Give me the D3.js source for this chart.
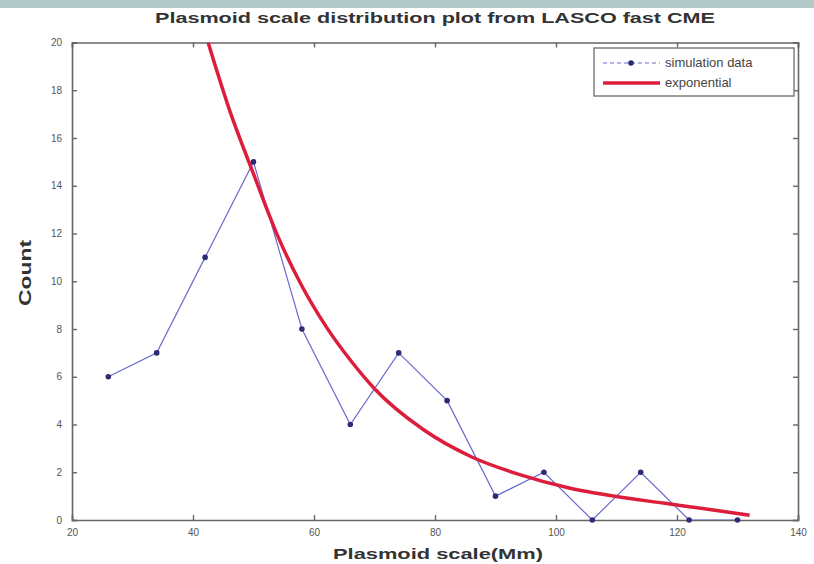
<!DOCTYPE html>
<html><head><meta charset="utf-8">
<script src="https://cdn.jsdelivr.net/npm/d3@7"></script>
<style>body{margin:0;background:#fff}svg{display:block}text{font-family:"Liberation Sans",Arial,sans-serif}</style>
</head><body>
<script>
const title = "Plasmoid scale distribution plot from LASCO fast CME";
const xLabel = "Plasmoid scale(Mm)";
const yLabel = "Count";
const seriesNames = ["simulation data", "exponential"];
const scaleX = [26, 34, 42, 50, 58, 66, 74, 82, 90, 98, 106, 114, 122, 130];
const counts = [6, 7, 11, 15, 8, 4, 7, 5, 1, 2, 0, 2, 0, 0];
const fitX = [42.5, 46, 50, 54, 58, 62, 66, 70, 78, 86, 94, 102, 110, 118, 126, 132];
const fitY = [20.0, 17.2, 14.5, 11.9, 9.8, 8.1, 6.7, 5.5, 3.8, 2.65, 1.9, 1.35, 0.98, 0.7, 0.42, 0.2];
const xTicks = [20, 40, 60, 80, 100, 120, 140];
const yTicks = [0, 2, 4, 6, 8, 10, 12, 14, 16, 18, 20];

const W = 814, H = 564;
const L = 72, R = 798, T = 42.5, B = 520;
const svg = d3.select("body").append("svg").attr("width", W).attr("height", H);

svg.append("rect").attr("x", 0).attr("y", 0).attr("width", W).attr("height", 8).attr("fill", "#b2c9c8");

const x = d3.scaleLinear().domain([20, 140]).range([L, R]);
const y = d3.scaleLinear().domain([0, 20]).range([B, T]);

svg.append("defs").append("clipPath").attr("id", "clip")
  .append("rect").attr("x", L).attr("y", T).attr("width", R - L).attr("height", B - T);

const axCol = "#666";
const gB = svg.append("g").attr("transform", `translate(0,${B})`)
  .call(d3.axisBottom(x).tickValues(xTicks).tickSize(-5).tickPadding(9).tickFormat(d3.format("d")));
const gT = svg.append("g").attr("transform", `translate(0,${T})`)
  .call(d3.axisTop(x).tickValues(xTicks).tickSize(-5).tickFormat(""));
const gL = svg.append("g").attr("transform", `translate(${L},0)`)
  .call(d3.axisLeft(y).tickValues(yTicks).tickSize(-5).tickPadding(10).tickFormat(d3.format("d")));
const gR = svg.append("g").attr("transform", `translate(${R},0)`)
  .call(d3.axisRight(y).tickValues(yTicks).tickSize(-5).tickFormat(""));
[gB, gT, gL, gR].forEach(g => {
  g.select(".domain").attr("stroke", axCol).attr("stroke-width", 1.6);
  g.selectAll(".tick line").attr("stroke", axCol).attr("stroke-width", 1.4);
  g.selectAll(".tick text").attr("fill", "#555").attr("font-size", 10);
});

const plot = svg.append("g").attr("clip-path", "url(#clip)");

const dataPts = scaleX.map((v, i) => [v, counts[i]]);
plot.append("path").datum(dataPts)
  .attr("fill", "none").attr("stroke", "#6a6ad0").attr("stroke-width", 1.2)
  .attr("d", d3.line().x(d => x(d[0])).y(d => y(d[1])));

const fitPts = fitX.map((v, i) => [v, fitY[i]]);
plot.append("path").datum(fitPts)
  .attr("fill", "none").attr("stroke", "#dc1e3c").attr("stroke-width", 3.5)
  .attr("d", d3.line().curve(d3.curveMonotoneX).x(d => x(d[0])).y(d => y(d[1])));

svg.append("g").selectAll("circle").data(dataPts).join("circle")
  .attr("cx", d => x(d[0])).attr("cy", d => y(d[1])).attr("r", 2.8).attr("fill", "#2c2c72");

// legend
const lg = svg.append("g");
lg.append("rect").attr("x", 594).attr("y", 48).attr("width", 200).attr("height", 48)
  .attr("fill", "#fff").attr("stroke", "#777").attr("stroke-width", 1.4);
lg.append("line").attr("x1", 603).attr("x2", 660).attr("y1", 63).attr("y2", 63)
  .attr("stroke", "#6a6ad0").attr("stroke-width", 1.2).attr("stroke-dasharray", "4,3");
lg.append("circle").attr("cx", 631).attr("cy", 63).attr("r", 2.8).attr("fill", "#2c2c72");
lg.append("line").attr("x1", 603).attr("x2", 660).attr("y1", 83).attr("y2", 83)
  .attr("stroke", "#dc1e3c").attr("stroke-width", 3.5);
lg.append("text").attr("x", 665).attr("y", 67).attr("font-size", 13).attr("fill", "#444").text(seriesNames[0]);
lg.append("text").attr("x", 665).attr("y", 87).attr("font-size", 13).attr("fill", "#444").text(seriesNames[1]);

svg.append("text").attr("x", 435).attr("y", 23).attr("text-anchor", "middle")
  .attr("font-size", 14).attr("font-weight", "bold").attr("fill", "#333")
  .attr("textLength", 560).attr("lengthAdjust", "spacingAndGlyphs").text(title);
svg.append("text").attr("x", 438).attr("y", 559).attr("text-anchor", "middle")
  .attr("font-size", 15).attr("font-weight", "bold").attr("fill", "#333")
  .attr("textLength", 210).attr("lengthAdjust", "spacingAndGlyphs").text(xLabel);
svg.append("text").attr("transform", "translate(31,273) rotate(-90)").attr("text-anchor", "middle")
  .attr("font-size", 16).attr("font-weight", "bold").attr("fill", "#333")
  .attr("textLength", 66).attr("lengthAdjust", "spacingAndGlyphs").text(yLabel);
</script>
</body></html>
